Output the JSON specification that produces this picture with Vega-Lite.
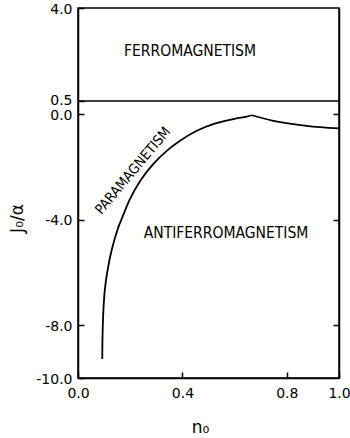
{
  "$schema": "https://vega.github.io/schema/vega-lite/v6.json",
  "width": 261,
  "height": 370,
  "autosize": "none",
  "padding": {"left": 78, "top": 8, "right": 11, "bottom": 60},
  "background": "white",
  "config": {
    "view": {"stroke": "black", "strokeWidth": 1.5},
    "font": "DejaVu Sans",
    "axis": {
      "grid": false,
      "domainColor": "black",
      "domainWidth": 1.5,
      "tickColor": "black",
      "tickWidth": 1.5,
      "tickSize": -6,
      "labelColor": "black",
      "titleColor": "black",
      "labelFont": "DejaVu Sans",
      "labelFontSize": 14,
      "titleFont": "DejaVu Sans",
      "titleFontSize": 17,
      "titleFontWeight": "normal",
      "labelFlush": false,
      "labelOverlap": false
    }
  },
  "resolve": {"scale": {"y": "independent"}},
  "layer": [
    {
      "data": {"values": [
        {"branch": "L", "n": 0.093, "J": -9.28},
        {"branch": "L", "n": 0.094, "J": -8.41},
        {"branch": "L", "n": 0.097, "J": -7.5},
        {"branch": "L", "n": 0.103, "J": -6.63},
        {"branch": "L", "n": 0.114, "J": -5.87},
        {"branch": "L", "n": 0.13, "J": -5.11},
        {"branch": "L", "n": 0.152, "J": -4.36},
        {"branch": "L", "n": 0.167, "J": -3.98},
        {"branch": "L", "n": 0.199, "J": -3.22},
        {"branch": "L", "n": 0.238, "J": -2.53},
        {"branch": "L", "n": 0.288, "J": -1.89},
        {"branch": "L", "n": 0.34, "J": -1.39},
        {"branch": "L", "n": 0.391, "J": -1.01},
        {"branch": "L", "n": 0.455, "J": -0.63},
        {"branch": "L", "n": 0.518, "J": -0.38},
        {"branch": "L", "n": 0.595, "J": -0.19},
        {"branch": "L", "n": 0.646, "J": -0.09},
        {"branch": "L", "n": 0.666, "J": -0.04},
        {"branch": "R", "n": 0.666, "J": -0.04},
        {"branch": "R", "n": 0.748, "J": -0.25},
        {"branch": "R", "n": 0.876, "J": -0.44},
        {"branch": "R", "n": 1.0, "J": -0.54}
      ]},
      "mark": {"type": "line", "color": "black", "strokeWidth": 1.8, "interpolate": "catmull-rom"},
      "encoding": {
        "x": {
          "field": "n", "type": "quantitative",
          "scale": {"domain": [0, 1], "nice": false, "zero": false},
          "axis": {"values": [0, 0.4, 0.8, 1.0], "format": ".1f", "labelPadding": 14, "title": "n₀", "titleX": 122, "titleY": 49, "titleBaseline": "middle", "titleAnchor": "middle"}
        },
        "y": {
          "field": "J", "type": "quantitative",
          "scale": {"domain": [-10, 0.5, 4], "range": [370, 93, 0], "nice": false, "zero": false},
          "axis": {"values": [4, 0.5, 0, -4, -8, -10], "format": ".1f", "labelExpr": "replace(datum.label, '−', '-')", "labelPadding": 12, "labelBaseline": "middle", "labelOffset": {"condition": {"test": "datum.value == 0.5", "value": -1}, "value": 1}, "title": "J₀/α", "titleAngle": -90, "titleX": -61, "titleY": 210, "titleBaseline": "middle", "titleAlign": "center"}
        },
        "detail": {"field": "branch"}
      }
    },
    {
      "data": {"values": [{"J": 0.5}]},
      "mark": {"type": "rule", "color": "black", "strokeWidth": 1.3},
      "encoding": {
        "y": {
          "field": "J", "type": "quantitative",
          "scale": {"domain": [-10, 0.5, 4], "range": [370, 93, 0], "nice": false, "zero": false},
          "axis": {"orient": "right", "values": [0, -4, -8], "labels": false, "title": null}
        }
      }
    },
    {
      "data": {"values": [
        {"n": 0.429, "J": 2.38, "label": "FERROMAGNETISM"},
        {"n": 0.567, "J": -4.49, "label": "ANTIFERROMAGNETISM"}
      ]},
      "mark": {"type": "text", "font": "DejaVu Sans Condensed", "fontSize": 15.5, "color": "black", "baseline": "middle", "align": "center"},
      "encoding": {
        "x": {"field": "n", "type": "quantitative"},
        "y": {"field": "J", "type": "quantitative", "scale": {"domain": [-10, 0.5, 4], "range": [370, 93, 0], "nice": false, "zero": false}, "axis": null},
        "text": {"field": "label"}
      }
    },
    {
      "data": {"values": [
        {"n": 0.212, "J": -2.15, "label": "PARAMAGNETISM"}
      ]},
      "mark": {"type": "text", "font": "DejaVu Sans Condensed", "fontSize": 14, "color": "black", "baseline": "middle", "align": "center", "angle": -50},
      "encoding": {
        "x": {"field": "n", "type": "quantitative"},
        "y": {"field": "J", "type": "quantitative", "scale": {"domain": [-10, 0.5, 4], "range": [370, 93, 0], "nice": false, "zero": false}, "axis": null},
        "text": {"field": "label"}
      }
    }
  ]
}
